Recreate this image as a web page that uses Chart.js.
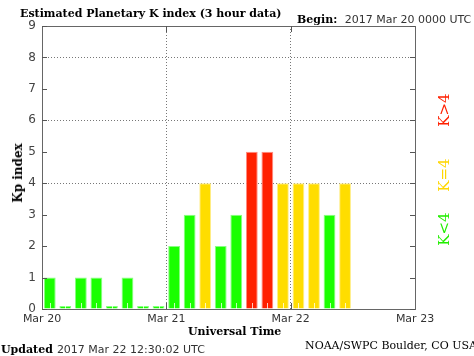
<!DOCTYPE html>
<html>
<head>
<meta charset="utf-8">
<script src="https://cdn.jsdelivr.net/npm/chart.js@4"></script>
<style>
  html, body { margin: 0; padding: 0; background: #fff; }
  #wrap { position: relative; width: 474px; height: 356px; overflow: hidden; }
  canvas { position: absolute; left: 0; top: 0; }
  .t { position: absolute; white-space: nowrap; line-height: 1; }
  .serif { font-family: "DejaVu Serif", "Liberation Serif", serif; font-weight: bold; color: #000; }
  .sans { font-family: "DejaVu Sans", "Liberation Sans", sans-serif; color: #333; }
</style>
</head>
<body>
<div id="wrap">
  <canvas id="c" width="474" height="356"></canvas>
  <div class="t serif" style="left:20px; top:8px; font-size:11px;">Estimated Planetary K index (3 hour data)</div>
  <div class="t" style="left:297px; top:10px;"><span class="serif" style="font-size:11px;">Begin:</span> <span class="sans" style="font-size:11px;">&nbsp;2017 Mar 20 0000 UTC</span></div>
  <div class="t serif" style="left:188px; top:326px; font-size:11px;">Universal Time</div>
  <div class="t" style="left:1px; top:340px;"><span class="serif" style="font-size:11px;">Updated</span> <span class="sans" style="font-size:11px;">2017 Mar 22 12:30:02 UTC</span></div>
  <div class="t serif" style="left:305px; top:340px; font-size:11px; font-weight:normal;">NOAA/SWPC Boulder, CO USA</div>
  <div class="t serif" style="left:18px; top:173px; font-size:12px; transform: translate(-50%,-50%) rotate(-90deg);">Kp index</div>
  <div class="t serif" style="left:444px; top:110px; font-size:15px; font-weight:normal; color:#ff2000; transform: translate(-50%,-50%) rotate(-90deg);">K&gt;4</div>
  <div class="t serif" style="left:444px; top:175px; font-size:15px; font-weight:normal; color:#ffd700; transform: translate(-50%,-50%) rotate(-90deg);">K=4</div>
  <div class="t serif" style="left:444px; top:229px; font-size:15px; font-weight:normal; color:#22ee00; transform: translate(-50%,-50%) rotate(-90deg);">K&lt;4</div>
</div>
<script>
// ---- data ----
const slotHours = [1.5,4.5,7.5,10.5,13.5,16.5,19.5,22.5,
                   25.5,28.5,31.5,34.5,37.5,40.5,43.5,46.5,
                   49.5,52.5,55.5,58.5];
const kpValues  = [1,0,1,1,0,1,0,0,
                   2,3,4,2,3,5,5,4,
                   4,4,3,4];
const dayLabels = ["Mar 20","Mar 21","Mar 22","Mar 23"];
const yTicks    = [0,1,2,3,4,5,6,7,8,9];
const gridLevels = [4,6,8];

const fillFor = v => v > 4 ? '#ff2000' : (v === 4 ? '#ffdd00' : '#1aff00');
const edgeFor = v => v > 4 ? '#ff8c80' : (v === 4 ? '#ffee88' : '#88ff80');

const frameTicks = {
  id: 'frameTicks',
  afterDatasetsDraw(chart) {
    const {ctx, chartArea: a, scales: {x, y}} = chart;
    ctx.save();
    ctx.strokeStyle = 'rgba(255,255,255,0.75)';
    ctx.lineWidth = 1;
    slotHours.forEach(h => {
      const px = Math.round(x.getPixelForValue(h)) + 0.5;
      ctx.beginPath(); ctx.moveTo(px, a.bottom); ctx.lineTo(px, a.bottom - 6); ctx.stroke();
    });
    ctx.strokeStyle = '#666';
    ctx.strokeRect(Math.round(a.left) + 0.5, Math.round(a.top) + 0.5, Math.round(a.right - a.left), Math.round(a.bottom - a.top));
    ctx.strokeStyle = '#555';
    yTicks.forEach(v => {
      const py = Math.round(y.getPixelForValue(v)) + 0.5;
      ctx.beginPath(); ctx.moveTo(a.left, py); ctx.lineTo(a.left + 5, py); ctx.stroke();
      ctx.beginPath(); ctx.moveTo(a.right, py); ctx.lineTo(a.right - 5, py); ctx.stroke();
    });
    [24, 48].forEach(h => {
      const px = Math.round(x.getPixelForValue(h)) + 0.5;
      ctx.beginPath(); ctx.moveTo(px, a.bottom); ctx.lineTo(px, a.bottom - 6); ctx.stroke();
      ctx.beginPath(); ctx.moveTo(px, a.top); ctx.lineTo(px, a.top + 6); ctx.stroke();
    });
    ctx.restore();
  }
};

new Chart(document.getElementById('c'), {
  type: 'bar',
  data: {
    datasets: [{
      data: slotHours.map((h, i) => ({x: h, y: kpValues[i]})),
      backgroundColor: kpValues.map(fillFor),
      borderColor: kpValues.map(edgeFor),
      borderWidth: 1,
      borderSkipped: 'bottom',
      minBarLength: 3,
      barPercentage: 0.76,
      categoryPercentage: 1.0
    }]
  },
  options: {
    responsive: false,
    devicePixelRatio: 1,
    animation: false,
    layout: { padding: { top: 26, right: 59, left: 0, bottom: 0 } },
    plugins: { legend: { display: false }, tooltip: { enabled: false }, title: { display: false } },
    scales: {
      x: {
        type: 'linear',
        offset: false,
        min: 0, max: 72,
        afterFit(s) { s.height = 47; },
        afterBuildTicks(s) { s.ticks = dayLabels.map((_, i) => ({value: i * 24})); },
        ticks: {
          callback: v => dayLabels[Math.round(v / 24)],
          color: '#333',
          font: { family: 'DejaVu Sans', size: 11 },
          padding: 4,
          maxRotation: 0,
          autoSkip: false
        },
        border: { display: false, dash: [1, 2] },
        grid: {
          offset: false,
          drawTicks: false,
          color: ctx => (ctx.tick && (ctx.tick.value === 24 || ctx.tick.value === 48)) ? '#777' : 'transparent',
          lineWidth: 1
        }
      },
      y: {
        min: 0, max: 9,
        afterFit(s) { s.width = 42; },
        afterBuildTicks(s) { s.ticks = yTicks.map(v => ({value: v})); },
        ticks: {
          color: '#444',
          font: { family: 'DejaVu Sans', size: 12 },
          padding: 6
        },
        border: { display: false, dash: [1, 2] },
        grid: {
          drawTicks: false,
          color: ctx => (ctx.tick && gridLevels.includes(ctx.tick.value)) ? '#777' : 'transparent',
          lineWidth: 1
        }
      }
    }
  },
  plugins: [frameTicks]
});
</script>
</body>
</html>
